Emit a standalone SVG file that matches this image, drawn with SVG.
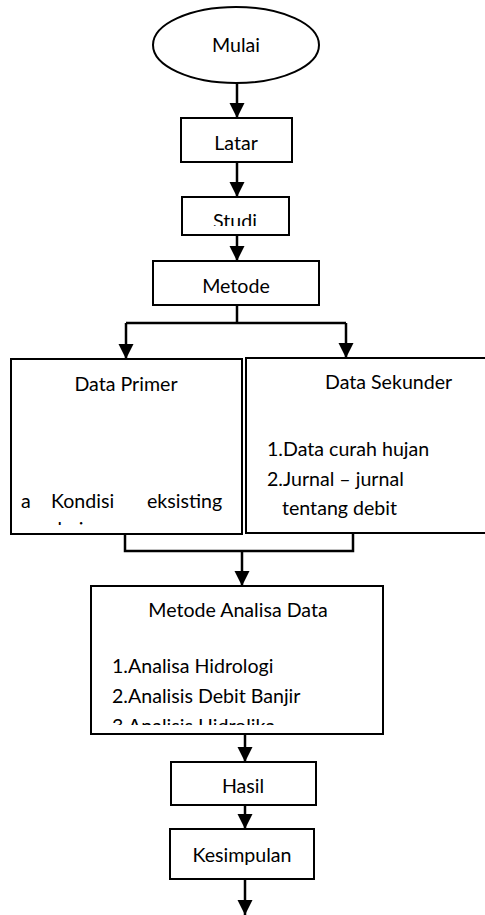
<svg xmlns="http://www.w3.org/2000/svg" width="485" height="915" viewBox="0 0 485 915">
<style>
.box{fill:#fff;stroke:#000;stroke-width:2}
.t{font-family:Lato,"Liberation Sans",sans-serif;font-size:19.6px;fill:#000}
.c{text-anchor:middle}
.ln{fill:none;stroke:#000;stroke-width:2.5}
</style>
<defs>
<marker id="ah" markerUnits="userSpaceOnUse" markerWidth="16" markerHeight="16" refX="15" refY="7.5" orient="auto">
<path d="M0,0 L15,7.5 L0,15 z" fill="#000"/>
</marker>
<clipPath id="cpStudi"><rect x="182" y="197" width="107" height="29"/></clipPath>
<clipPath id="cpPrimer"><rect x="11" y="359" width="231" height="166"/></clipPath>
<clipPath id="cpMad"><rect x="91" y="586" width="292" height="139"/></clipPath>
</defs>
<rect width="485" height="915" fill="#fff"/>
<g id="connectors">
<path class="ln" d="M237,83 V118" marker-end="url(#ah)"/>
<path class="ln" d="M237,162 V197" marker-end="url(#ah)"/>
<path class="ln" d="M237,235 V261" marker-end="url(#ah)"/>
<path class="ln" d="M237,305 V323"/>
<path class="ln" d="M126,323 H346"/>
<path class="ln" d="M126,323 V359" marker-end="url(#ah)"/>
<path class="ln" d="M346,323 V358" marker-end="url(#ah)"/>
<path class="ln" d="M125,534 V551 H353 V533"/>
<path class="ln" d="M242,551 V586" marker-end="url(#ah)"/>
<path class="ln" d="M245,734 V762" marker-end="url(#ah)"/>
<path class="ln" d="M245,805 V829" marker-end="url(#ah)"/>
<path class="ln" d="M245,879 V915" marker-end="url(#ah)"/>
</g>
<g id="mulai">
<ellipse class="box" cx="236" cy="45" rx="83" ry="38"/>
<text class="t c" x="236" y="52">Mulai</text>
</g>
<g id="latar">
<rect class="box" x="181" y="118" width="111" height="44"/>
<text class="t c" x="236" y="150">Latar</text>
</g>
<g id="studi">
<rect class="box" x="182" y="197" width="107" height="38"/>
<text class="t c" x="235" y="228" clip-path="url(#cpStudi)">Studi</text>
</g>
<g id="metode">
<rect class="box" x="153" y="261" width="166" height="44"/>
<text class="t c" x="236" y="293">Metode</text>
</g>
<g id="data-primer">
<rect class="box" x="11" y="359" width="231" height="175"/>
<g clip-path="url(#cpPrimer)">
<text class="t c" x="126" y="391">Data Primer</text>
<text class="t" x="21" y="508">a</text>
<text class="t" x="51" y="508">Kondisi</text>
<text class="t" x="147" y="508">eksisting</text>
<text class="t" x="51" y="536">drainase</text>
</g>
</g>
<g id="data-sekunder">
<rect class="box" x="246" y="358" width="250" height="175"/>
<text class="t" x="325" y="389">Data Sekunder</text>
<text class="t" x="267" y="456">1.Data curah hujan</text>
<text class="t" x="267" y="486">2.Jurnal – jurnal</text>
<text class="t" x="282" y="515">tentang debit</text>
</g>
<g id="metode-analisa">
<rect class="box" x="91" y="586" width="292" height="148"/>
<g clip-path="url(#cpMad)">
<text class="t c" x="238" y="617">Metode Analisa Data</text>
<text class="t" x="112" y="673">1.Analisa Hidrologi</text>
<text class="t" x="112" y="703">2.Analisis Debit Banjir</text>
<text class="t" x="112" y="733">3.Analisis Hidrolika</text>
</g>
</g>
<g id="hasil">
<rect class="box" x="171" y="762" width="145" height="43"/>
<text class="t c" x="243" y="793">Hasil</text>
</g>
<g id="kesimpulan">
<rect class="box" x="170" y="829" width="144" height="50"/>
<text class="t c" x="242" y="862">Kesimpulan</text>
</g>
</svg>
